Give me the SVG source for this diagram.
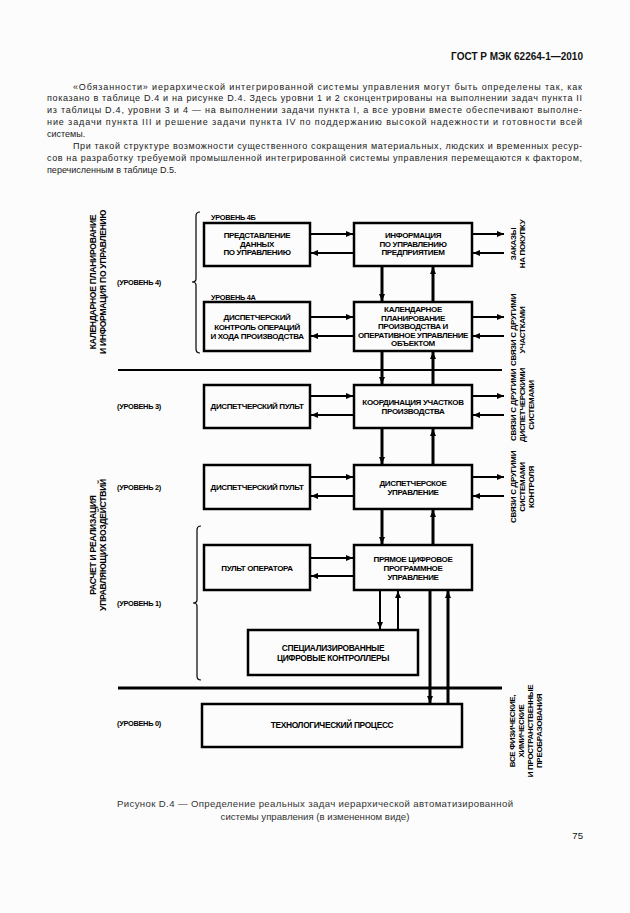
<svg xmlns="http://www.w3.org/2000/svg" width="630" height="913" viewBox="0 0 630 913">
<style>
.bg{fill:#fcfcfc}
.p{font-family:"Liberation Sans",Arial,sans-serif;font-size:9px;fill:#1a1a1a}
.hd{font-family:"Liberation Sans",Arial,sans-serif;font-size:10px;font-weight:bold;fill:#111}
.cap{font-family:"Liberation Sans",Arial,sans-serif;font-size:9.6px;fill:#333}
.t{font-family:"Liberation Sans",Arial,sans-serif;font-size:8px;font-weight:bold;fill:#000;letter-spacing:-0.35px;text-anchor:middle}
.t2{font-family:"Liberation Sans",Arial,sans-serif;font-size:8.4px;font-weight:bold;fill:#000;letter-spacing:-0.35px;text-anchor:middle}
.lv{font-family:"Liberation Sans",Arial,sans-serif;font-size:7.4px;font-weight:bold;fill:#000;letter-spacing:-0.3px}
.rot{font-family:"Liberation Sans",Arial,sans-serif;font-size:8px;font-weight:bold;fill:#000;letter-spacing:-0.3px;text-anchor:middle}
.rotl{font-family:"Liberation Sans",Arial,sans-serif;font-size:8.6px;font-weight:bold;fill:#000;letter-spacing:-0.3px;text-anchor:middle}
.box{fill:none;stroke:#000;stroke-width:2.5}
.h{fill:none;stroke:#000;stroke-width:2}
.v{fill:none;stroke:#000;stroke-width:3}
.br{fill:none;stroke:#000;stroke-width:1.2}
</style>
<defs>
<marker id="ah" markerUnits="userSpaceOnUse" markerWidth="7" markerHeight="6" refX="7" refY="3" orient="auto">
<path d="M0,0 L7,3 L0,6 z" fill="#000"/>
</marker>
</defs>
<rect class="bg" x="0" y="0" width="630" height="913"/>

<g id="page-text">
<text class="hd" x="583" y="60" text-anchor="end">ГОСТ Р МЭК 62264-1—2010</text>
<text class="p" x="73" y="89.5" textLength="509" lengthAdjust="spacing">«Обязанности» иерархической интегрированной системы управления могут быть определены так, как</text>
<text class="p" x="47" y="101.4" textLength="535" lengthAdjust="spacing">показано в таблице D.4 и на рисунке D.4. Здесь уровни 1 и 2 сконцентрированы на выполнении задач пункта II</text>
<text class="p" x="47" y="113.3" textLength="535" lengthAdjust="spacing">из таблицы D.4, уровни 3 и 4 — на выполнении задачи пункта I, а все уровни вместе обеспечивают выполне-</text>
<text class="p" x="47" y="125.2" textLength="535" lengthAdjust="spacing">ние задачи пункта III и решение задачи пункта IV по поддержанию высокой надежности и готовности всей</text>
<text class="p" x="47" y="137.1">системы.</text>
<text class="p" x="73" y="149" textLength="509" lengthAdjust="spacing">При такой структуре возможности существенного сокращения материальных, людских и временных ресур-</text>
<text class="p" x="47" y="160.9" textLength="535" lengthAdjust="spacing">сов на разработку требуемой промышленной интегрированной системы управления перемещаются к фактором,</text>
<text class="p" x="47" y="172.8">перечисленным в таблице D.5.</text>
<text class="cap" x="117" y="807" textLength="396" lengthAdjust="spacing">Рисунок  D.4 — Определение реальных задач иерархической автоматизированной</text>
<text class="cap" x="315" y="820" text-anchor="middle">системы управления (в измененном виде)</text>
<text class="cap" x="583" y="839" text-anchor="end" style="fill:#111">75</text>
</g>

<g id="side-labels">
<text class="rotl" transform="translate(96,282) rotate(-90)"><tspan x="0" dy="0">КАЛЕНДАРНОЕ ПЛАНИРОВАНИЕ</tspan><tspan x="0" dy="9.5">И ИНФОРМАЦИЯ ПО УПРАВЛЕНИЮ</tspan></text>
<text class="rotl" transform="translate(96,545) rotate(-90)"><tspan x="0" dy="0">РАСЧЕТ И РЕАЛИЗАЦИЯ</tspan><tspan x="0" dy="9.5">УПРАВЛЯЮЩИХ ВОЗДЕЙСТВИЙ</tspan></text>
<text class="lv" x="117" y="285">(УРОВЕНЬ 4)</text>
<text class="lv" x="117" y="409">(УРОВЕНЬ 3)</text>
<text class="lv" x="117" y="490">(УРОВЕНЬ 2)</text>
<text class="lv" x="117" y="606">(УРОВЕНЬ 1)</text>
<text class="lv" x="117" y="726">(УРОВЕНЬ 0)</text>
<text class="lv" x="211" y="220">УРОВЕНЬ 4Б</text>
<text class="lv" x="211" y="300">УРОВЕНЬ 4А</text>
<path class="br" d="M200,212 Q196,212 196,216 V279 Q196,282 192,282 Q196,282 196,285 V349 Q196,353 200,353"/>
<path class="br" d="M201,526 Q197,526 197,530 V600 Q197,603 193,603 Q197,603 197,606 V676 Q197,680 201,680"/>
</g>

<g id="external-labels">
<text class="rot" transform="translate(516,244) rotate(-90)"><tspan x="0" dy="0">ЗАКАЗЫ</tspan><tspan x="0" dy="9">НА ПОКУПКУ</tspan></text>
<text class="rot" transform="translate(516,330) rotate(-90)"><tspan x="0" dy="0">СВЯЗИ С ДРУГИМИ</tspan><tspan x="0" dy="9">УЧАСТКАМИ</tspan></text>
<text class="rot" transform="translate(516,405) rotate(-90)"><tspan x="0" dy="0">СВЯЗИ С ДРУГИМИ</tspan><tspan x="0" dy="9">ДИСПЕТЧЕРСКИМИ</tspan><tspan x="0" dy="9">СИСТЕМАМИ</tspan></text>
<text class="rot" transform="translate(516,487) rotate(-90)"><tspan x="0" dy="0">СВЯЗИ С ДРУГИМИ</tspan><tspan x="0" dy="9">СИСТЕМАМИ</tspan><tspan x="0" dy="9">КОНТРОЛЯ</tspan></text>
<text class="rot" transform="translate(515,731) rotate(-90)"><tspan x="0" dy="0">ВСЕ ФИЗИЧЕСКИЕ,</tspan><tspan x="0" dy="9">ХИМИЧЕСКИЕ</tspan><tspan x="0" dy="9">И ПРОСТРАНСТВЕННЫЕ</tspan><tspan x="0" dy="9">ПРЕОБРАЗОВАНИЯ</tspan></text>
</g>

<g id="n-predstavlenie">
<rect class="box" x="204" y="223" width="106" height="43"/>
<text class="t" x="257" y="238">ПРЕДСТАВЛЕНИЕ</text>
<text class="t" x="257" y="246.5">ДАННЫХ</text>
<text class="t" x="257" y="255">ПО УПРАВЛЕНИЮ</text>
</g>
<g id="n-informaciya">
<rect class="box" x="354" y="223" width="118" height="43"/>
<text class="t" x="413" y="238">ИНФОРМАЦИЯ</text>
<text class="t" x="413" y="246.5">ПО УПРАВЛЕНИЮ</text>
<text class="t" x="413" y="255">ПРЕДПРИЯТИЕМ</text>
</g>
<g id="n-disp-kontrol">
<rect class="box" x="204" y="302" width="106" height="49"/>
<text class="t" x="257" y="320">ДИСПЕТЧЕРСКИЙ</text>
<text class="t" x="257" y="329.5">КОНТРОЛЬ ОПЕРАЦИЙ</text>
<text class="t" x="257" y="339">И ХОДА ПРОИЗВОДСТВА</text>
</g>
<g id="n-kalendarnoe">
<rect class="box" x="354" y="302" width="118" height="49"/>
<text class="t" x="413" y="312">КАЛЕНДАРНОЕ</text>
<text class="t" x="413" y="320.5">ПЛАНИРОВАНИЕ</text>
<text class="t" x="413" y="329">ПРОИЗВОДСТВА И</text>
<text class="t" x="413" y="337.5">ОПЕРАТИВНОЕ УПРАВЛЕНИЕ</text>
<text class="t" x="413" y="346">ОБЪЕКТОМ</text>
</g>
<g id="n-pult3">
<rect class="box" x="204" y="385" width="106" height="43"/>
<text class="t" x="257" y="409">ДИСПЕТЧЕРСКИЙ ПУЛЬТ</text>
</g>
<g id="n-koordinaciya">
<rect class="box" x="354" y="385" width="118" height="43"/>
<text class="t" x="413" y="405">КООРДИНАЦИЯ УЧАСТКОВ</text>
<text class="t" x="413" y="414">ПРОИЗВОДСТВА</text>
</g>
<g id="n-pult2">
<rect class="box" x="204" y="465" width="106" height="44"/>
<text class="t" x="257" y="490">ДИСПЕТЧЕРСКИЙ ПУЛЬТ</text>
</g>
<g id="n-disp-upr">
<rect class="box" x="354" y="465" width="118" height="44"/>
<text class="t" x="413" y="486">ДИСПЕТЧЕРСКОЕ</text>
<text class="t" x="413" y="495">УПРАВЛЕНИЕ</text>
</g>
<g id="n-pult-operatora">
<rect class="box" x="204" y="545" width="106" height="45"/>
<text class="t" x="257" y="571">ПУЛЬТ ОПЕРАТОРА</text>
</g>
<g id="n-pcpu">
<rect class="box" x="354" y="545" width="118" height="45"/>
<text class="t" x="413" y="562">ПРЯМОЕ ЦИФРОВОЕ</text>
<text class="t" x="413" y="571">ПРОГРАММНОЕ</text>
<text class="t" x="413" y="580">УПРАВЛЕНИЕ</text>
</g>
<g id="n-spec">
<rect class="box" x="248" y="630" width="170" height="45"/>
<text class="t2" x="333" y="650.5">СПЕЦИАЛИЗИРОВАННЫЕ</text>
<text class="t2" x="333" y="661">ЦИФРОВЫЕ КОНТРОЛЛЕРЫ</text>
</g>
<g id="n-process">
<rect class="box" x="202" y="704" width="260" height="43"/>
<text class="t2" x="332" y="728">ТЕХНОЛОГИЧЕСКИЙ ПРОЦЕСС</text>
</g>

<g id="connectors">
<line class="h" x1="118" y1="370" x2="502" y2="370"/>
<line class="v" x1="118" y1="688" x2="502" y2="688"/>
<path class="h" d="M311,234 H353" marker-end="url(#ah)"/>
<path class="h" d="M353,253 H311" marker-end="url(#ah)"/>
<path class="h" d="M473,234 H504" marker-end="url(#ah)"/>
<path class="h" d="M504,253 H473" marker-end="url(#ah)"/>
<path class="h" d="M311,317 H353" marker-end="url(#ah)"/>
<path class="h" d="M353,336 H311" marker-end="url(#ah)"/>
<path class="h" d="M473,317 H504" marker-end="url(#ah)"/>
<path class="h" d="M504,336 H473" marker-end="url(#ah)"/>
<path class="h" d="M311,396 H353" marker-end="url(#ah)"/>
<path class="h" d="M353,415 H311" marker-end="url(#ah)"/>
<path class="h" d="M473,396 H504" marker-end="url(#ah)"/>
<path class="h" d="M504,415 H473" marker-end="url(#ah)"/>
<path class="h" d="M311,477 H353" marker-end="url(#ah)"/>
<path class="h" d="M353,496 H311" marker-end="url(#ah)"/>
<path class="h" d="M473,477 H504" marker-end="url(#ah)"/>
<path class="h" d="M504,496 H473" marker-end="url(#ah)"/>
<path class="h" d="M311,558 H353" marker-end="url(#ah)"/>
<path class="h" d="M353,576 H311" marker-end="url(#ah)"/>
<path class="v" d="M382,267 V301" marker-end="url(#ah)"/>
<path class="v" d="M433,301 V267" marker-end="url(#ah)"/>
<path class="v" d="M382,352 V384" marker-end="url(#ah)"/>
<path class="v" d="M433,384 V352" marker-end="url(#ah)"/>
<path class="v" d="M382,429 V464" marker-end="url(#ah)"/>
<path class="v" d="M433,464 V429" marker-end="url(#ah)"/>
<path class="v" d="M382,510 V544" marker-end="url(#ah)"/>
<path class="v" d="M433,544 V510" marker-end="url(#ah)"/>
<path class="h" d="M380,591 V629" marker-end="url(#ah)"/>
<path class="h" d="M398,629 V591" marker-end="url(#ah)"/>
<path class="v" d="M430,591 V703" marker-end="url(#ah)"/>
<path class="v" d="M448,703 V591" marker-end="url(#ah)"/>
</g>
</svg>
